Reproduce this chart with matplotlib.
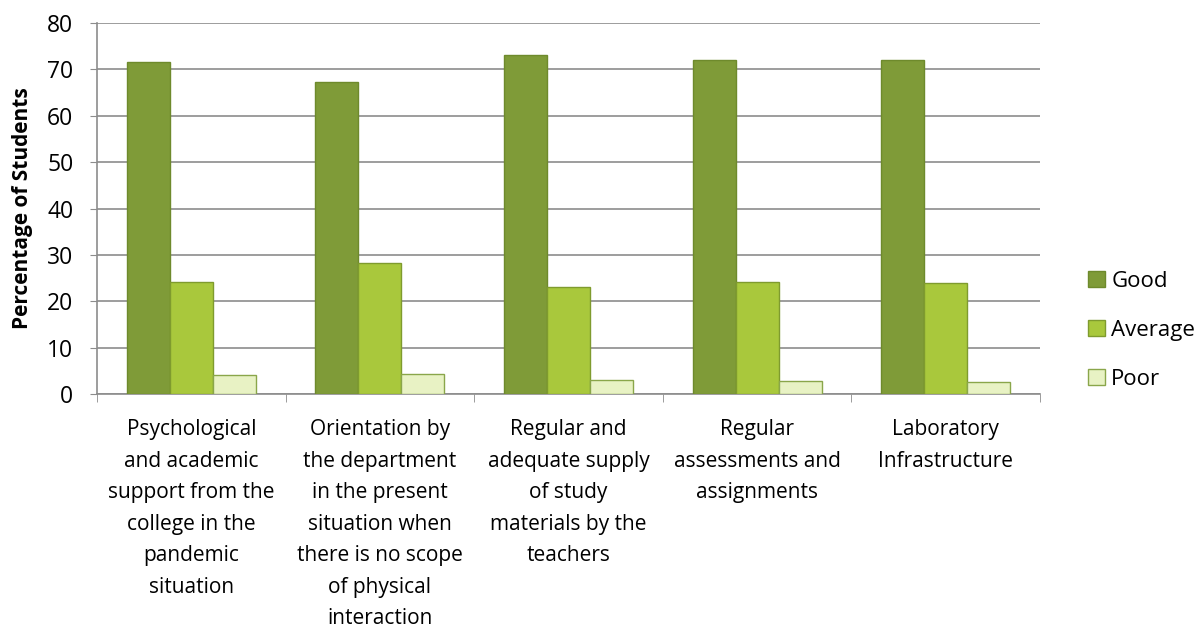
import matplotlib
matplotlib.use("Agg")
import matplotlib.pyplot as plt
import numpy as np

categories = [
    "Psychological\nand academic\nsupport from the\ncollege in the\npandemic\nsituation",
    "Orientation by\nthe department\nin the present\nsituation when\nthere is no scope\nof physical\ninteraction",
    "Regular and\nadequate supply\nof study\nmaterials by the\nteachers",
    "Regular\nassessments and\nassignments",
    "Laboratory\nInfrastructure",
]
series_names = ["Good", "Average", "Poor"]
good = [71.5, 67.3, 73.2, 72.0, 72.0]
average = [24.2, 28.2, 23.0, 24.2, 24.0]
poor = [4.2, 4.3, 3.1, 2.8, 2.6]
y_ticks = [0, 10, 20, 30, 40, 50, 60, 70, 80]

plt.rcParams['font.family'] = ['Open Sans', 'DejaVu Sans']

fig = plt.figure(figsize=(12.01, 6.31), dpi=100)
ax = fig.add_axes([97/1201, 1 - 394/631, (1040-97)/1201, (394-23)/631])

colors = ["#7f9b38", "#a9c83c", "#e8f2c4"]
edges = ["#6e8a2c", "#7f9b2e", "#8aa64a"]
x = np.arange(len(categories))
w = 0.228
for i, (vals, name) in enumerate(zip([good, average, poor], series_names)):
    ax.bar(x + (i - 1) * w, vals, width=w, color=colors[i], edgecolor=edges[i],
           linewidth=1.0, label=name, zorder=3)

ax.set_xlim(-0.5, len(categories) - 0.5)
ax.set_ylim(0, 80)
ax.set_yticks(y_ticks)
ax.set_yticklabels([str(t) for t in y_ticks], fontsize=16.5)
ax.yaxis.grid(True, color="#8c8c8c", linewidth=1.2, zorder=0)
ax.set_axisbelow(True)
for s in ["top", "right"]:
    ax.spines[s].set_visible(False)
ax.spines["left"].set_color("#8c8c8c")
ax.spines["bottom"].set_color("#8c8c8c")
ax.spines["left"].set_linewidth(1.2)
ax.spines["bottom"].set_linewidth(1.2)
ax.tick_params(axis="y", length=5, color="#8c8c8c", pad=12)

ax.set_xticks(x)
ax.set_xticklabels(categories, fontsize=15, linespacing=1.66, va="top")
ax.tick_params(axis="x", length=0, pad=18)
ax.set_xticks(np.arange(-0.5, len(categories), 1.0), minor=True)
ax.tick_params(axis="x", which="minor", length=6, color="#8c8c8c")

ax.set_ylabel("Percentage of Students", fontsize=15, fontweight="bold", labelpad=10)

leg = fig.legend(loc="upper left", bbox_to_anchor=(1068/1201, 1 - 251/631),
                 frameon=False, fontsize=16, handlelength=0.75, handleheight=0.75,
                 handletextpad=0.3, labelspacing=1.25)

fig.savefig("out.png", dpi=100)
